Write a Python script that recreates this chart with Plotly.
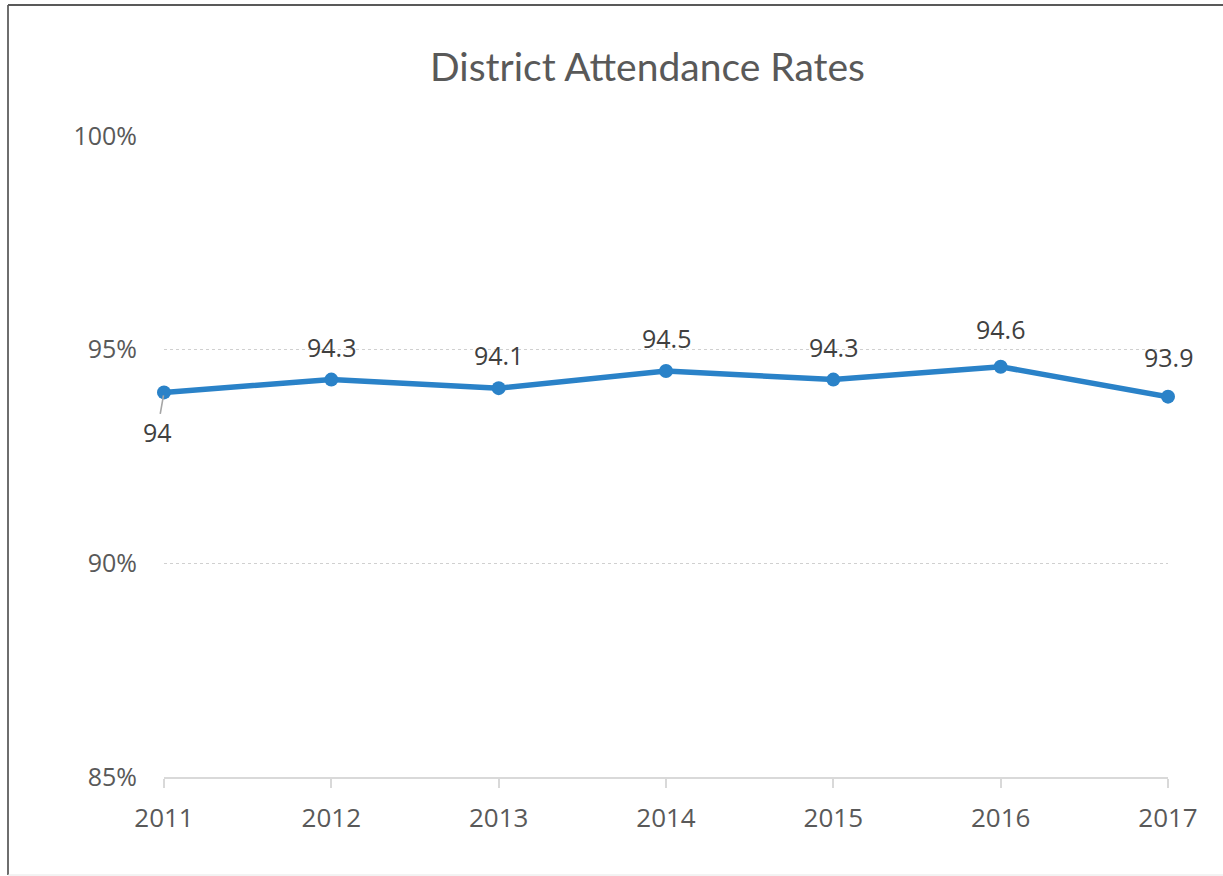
import plotly.graph_objects as go

years = [2011, 2012, 2013, 2014, 2015, 2016, 2017]
rates = [94.0, 94.3, 94.1, 94.5, 94.3, 94.6, 93.9]
y_ticks = [85, 90, 95, 100]
title_text = "District Attendance Rates"

# label offsets above points (pixels)
label_shift = [0, 33, 33, 33, 33, 38, 40]

W, H = 1223, 876
L, R, T, B = 164, 55, 136, 99
pw, ph = W - L - R, H - T - B

def px_x(x):
    return (x - L) / pw

def px_y(y):
    return (H - B - y) / ph

LINE = "#2A82C8"

fig = go.Figure()
fig.add_trace(go.Scatter(
    x=years, y=rates, mode="lines+markers",
    line=dict(color=LINE, width=5.5),
    marker=dict(color=LINE, size=14),
    cliponaxis=False, hoverinfo="skip", showlegend=False,
))

annotations = []
for i, (yr, v) in enumerate(zip(years, rates)):
    lbl = f"{v:g}"
    if i == 0:
        annotations.append(dict(
            x=yr, y=v, xref="x", yref="y", text=lbl,
            showarrow=True, arrowhead=0, arrowwidth=1.6, arrowcolor="#A6A6A6",
            ax=-7, ay=40, standoff=3,
            font=dict(family="Open Sans", size=25, color="#404040"),
        ))
    else:
        annotations.append(dict(
            x=yr, y=v, xref="x", yref="y", text=lbl, showarrow=False,
            yshift=label_shift[i],
            font=dict(family="Open Sans", size=25, color="#404040"),
        ))

annotations.append(dict(
    x=px_x(647), y=px_y(66), xref="paper", yref="paper", text=title_text,
    showarrow=False, xanchor="center", yanchor="middle",
    font=dict(family="Lato", size=39, color="#595959"),
))

shapes = [
    dict(type="line", xref="paper", yref="paper",
         x0=px_x(8), x1=px_x(8), y0=px_y(5), y1=px_y(875),
         line=dict(color="#6E6E6E", width=2)),
    dict(type="line", xref="paper", yref="paper",
         x0=px_x(8), x1=px_x(1223), y0=px_y(5), y1=px_y(5),
         line=dict(color="#595959", width=2)),
    dict(type="line", xref="paper", yref="paper",
         x0=px_x(8), x1=px_x(1223), y0=px_y(875), y1=px_y(875),
         line=dict(color="#E6E6E6", width=1)),
]

fig.update_layout(
    width=W, height=H,
    margin=dict(l=L, r=R, t=T, b=B, pad=0),
    paper_bgcolor="white", plot_bgcolor="white",
    annotations=annotations, shapes=shapes,
    font=dict(family="Open Sans", color="#595959"),
)
fig.update_xaxes(
    range=[2011, 2017], tickvals=years, ticktext=[str(y) for y in years],
    showgrid=False, zeroline=False,
    showline=True, linecolor="#D9D9D9", linewidth=1.5,
    ticks="outside", ticklen=9, tickcolor="#D9D9D9", tickwidth=1.5,
    tickfont=dict(family="Open Sans", size=26, color="#595959"),
    ticklabelstandoff=8,
)
fig.update_yaxes(
    range=[85, 100], tickvals=y_ticks, ticktext=[f"{t}%" for t in y_ticks],
    showgrid=True, gridcolor="#D0D0D0", griddash="dot", gridwidth=1.2,
    zeroline=False, showline=False, ticks="",
    tickfont=dict(family="Open Sans", size=25, color="#595959"),
    ticklabelstandoff=26,
)

fig.write_html(
    "out.html",
    config={"displayModeBar": False},
    post_script="document.body.style.margin='0px';document.body.style.overflow='hidden';",
)
